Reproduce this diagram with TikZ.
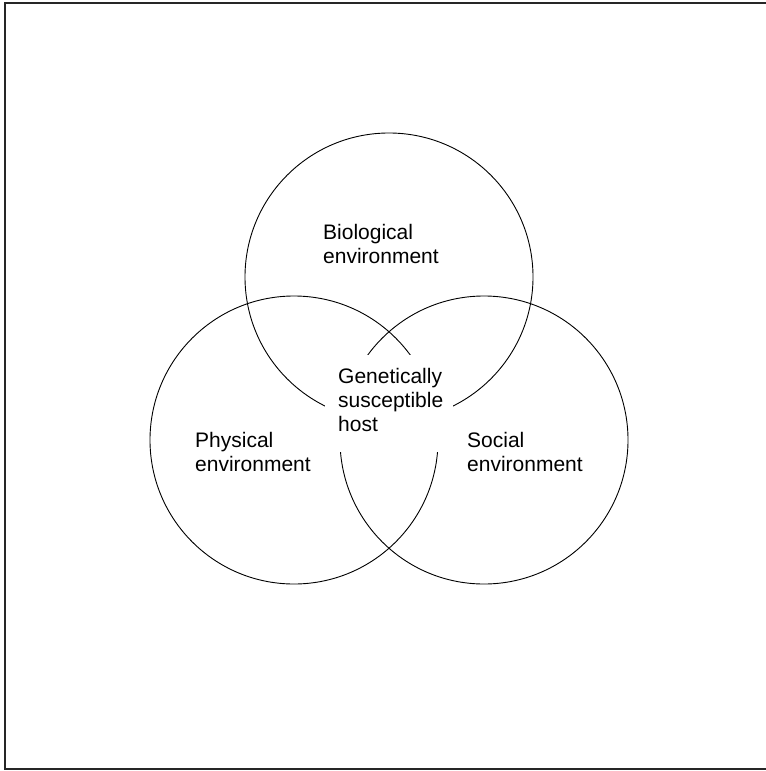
\documentclass[tikz,border=0pt]{standalone}
\usepackage{fontspec}
\setmainfont{Liberation Sans}
\begin{document}
\begin{tikzpicture}[x=1bp, y=-1bp,
  ring/.style={draw=black, line width=0.9bp},
  frameline/.style={draw=black!85, line width=2bp},
  label/.style={anchor=north west, inner sep=0pt, align=left,
    font=\fontsize{21bp}{24bp}\selectfont}]
\useasboundingbox (0,0) rectangle (766,771);
% outer frame (open on the right)
\draw[frameline] (766,3) -- (4.5,3) -- (4.5,769) -- (766,769);
% the three overlapping circles
\draw[ring] (389,277) circle[radius=144bp];
\draw[ring] (294,440) circle[radius=144bp];
\draw[ring] (484,440) circle[radius=144bp];
% clear area behind the central label
\fill[white] (325,355) rectangle (453,452);
% labels
\node[label] (bio)  at (323,224) {Biological\\environment};
\node[label] (host) at (338,368) {Genetically\\susceptible\\host};
\node[label] (phys) at (195,432) {Physical\\environment};
\node[label] (soc)  at (467,432) {Social\\environment};
\end{tikzpicture}
\end{document}
